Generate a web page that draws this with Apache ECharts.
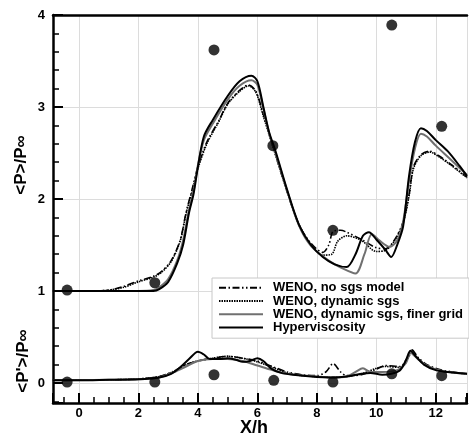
<!DOCTYPE html>
<html>
<head>
<meta charset="utf-8">
<script src="https://cdn.jsdelivr.net/npm/echarts@6/dist/echarts.min.js"></script>
<style>html,body{margin:0;padding:0;background:#fff}#c{width:469px;height:435px}</style>
</head>
<body>
<div id="c"></div>
<script>
// ---- data ----
const seriesNames = ['WENO, no sgs model', 'WENO, dynamic sgs', 'WENO, dynamic sgs, finer grid', 'Hyperviscosity'];
const xLabelName = 'X/h';
const yNameMean = '<P>/P\u221E';
const yNameFluct = "<P'>/P\u221E";

const expMean = [[-0.4,1.01],[2.55,1.09],[4.54,3.62],[6.52,2.58],[8.54,1.66],[10.52,3.89],[12.2,2.79]];
const expFluct = [[-0.4,0.01],[2.55,0.01],[4.54,0.09],[6.55,0.03],[8.54,0.01],[10.52,0.1],[12.2,0.08]];

const noSgsMean = [[-0.88,1.0],[0.5,1.0],[1.0,1.01],[1.5,1.05],[2.0,1.11],[2.5,1.16],[2.8,1.22],[3.1,1.33],[3.4,1.55],[3.6,1.85],[3.8,2.1],[4.0,2.35],[4.3,2.62],[4.7,2.85],[5.0,3.04],[5.4,3.18],[5.7,3.24],[5.95,3.17],[6.2,2.92],[6.5,2.6],[7.0,2.08],[7.4,1.72],[7.8,1.52],[8.2,1.42],[8.4,1.5],[8.55,1.65],[8.8,1.66],[9.0,1.64],[9.5,1.56],[10.0,1.47],[10.3,1.46],[10.6,1.55],[10.9,1.75],[11.1,2.05],[11.25,2.35],[11.5,2.48],[11.8,2.52],[12.1,2.47],[12.5,2.38],[13.05,2.24]];
const dynMean = [[-0.88,1.0],[0.5,1.0],[1.0,1.01],[1.5,1.04],[2.0,1.1],[2.5,1.15],[2.8,1.21],[3.1,1.32],[3.4,1.54],[3.6,1.84],[3.8,2.08],[4.0,2.33],[4.3,2.6],[4.7,2.84],[5.0,3.03],[5.4,3.17],[5.7,3.23],[5.95,3.16],[6.2,2.9],[6.5,2.59],[7.0,2.08],[7.4,1.72],[7.8,1.5],[8.2,1.39],[8.5,1.4],[8.7,1.54],[9.0,1.6],[9.5,1.55],[10.0,1.43],[10.3,1.44],[10.6,1.54],[10.9,1.74],[11.1,2.03],[11.25,2.33],[11.5,2.47],[11.8,2.51],[12.1,2.46],[12.5,2.37],[13.05,2.23]];
const fineMean = [[-0.88,1.0],[1.0,1.0],[2.0,1.0],[2.5,1.01],[2.7,1.04],[3.0,1.13],[3.3,1.33],[3.5,1.55],[3.7,1.88],[3.85,2.08],[4.0,2.37],[4.2,2.64],[4.5,2.82],[5.0,3.08],[5.4,3.23],[5.8,3.29],[6.0,3.24],[6.2,2.98],[6.4,2.71],[6.6,2.51],[7.0,2.09],[7.4,1.71],[7.8,1.49],[8.4,1.33],[8.9,1.24],[9.3,1.19],[9.6,1.4],[9.85,1.62],[10.1,1.55],[10.45,1.48],[10.7,1.55],[10.9,1.75],[11.1,2.2],[11.3,2.55],[11.5,2.71],[11.7,2.68],[12.0,2.58],[12.5,2.43],[13.05,2.26]];
const hyperMean = [[-0.88,1.0],[1.0,1.0],[2.0,1.0],[2.5,1.0],[2.7,1.02],[3.0,1.1],[3.3,1.3],[3.5,1.5],[3.7,1.85],[3.85,2.05],[4.0,2.35],[4.2,2.68],[4.5,2.86],[5.0,3.12],[5.4,3.28],[5.8,3.34],[6.0,3.28],[6.2,3.0],[6.4,2.72],[6.6,2.53],[7.0,2.1],[7.4,1.72],[7.8,1.5],[8.2,1.37],[8.6,1.29],[9.0,1.26],[9.3,1.4],[9.55,1.6],[9.75,1.64],[10.0,1.56],[10.3,1.45],[10.5,1.37],[10.7,1.5],[10.9,1.7],[11.1,2.25],[11.3,2.62],[11.5,2.77],[11.7,2.74],[12.0,2.64],[12.4,2.52],[12.8,2.36],[13.05,2.25]];

const noSgsFluct = [[-0.88,0.03],[1.0,0.035],[2.0,0.045],[2.7,0.07],[3.2,0.13],[3.6,0.2],[4.0,0.24],[4.5,0.27],[5.0,0.29],[5.5,0.27],[6.0,0.24],[6.5,0.18],[7.0,0.12],[7.5,0.09],[8.0,0.08],[8.3,0.12],[8.55,0.21],[8.8,0.12],[9.0,0.08],[9.5,0.09],[10.0,0.15],[10.3,0.19],[10.8,0.18],[11.0,0.25],[11.2,0.36],[11.4,0.28],[11.7,0.2],[12.2,0.14],[13.05,0.1]];
const dynFluct = [[-0.88,0.03],[1.0,0.035],[2.0,0.045],[2.7,0.07],[3.2,0.13],[3.6,0.2],[4.0,0.24],[4.5,0.27],[5.0,0.29],[5.5,0.27],[6.0,0.23],[6.5,0.17],[7.0,0.11],[7.5,0.08],[8.0,0.07],[8.5,0.06],[9.0,0.07],[9.5,0.1],[10.0,0.16],[10.3,0.18],[10.8,0.17],[11.0,0.23],[11.2,0.33],[11.4,0.27],[11.7,0.19],[12.2,0.13],[13.05,0.1]];
const fineFluct = [[-0.88,0.03],[2.0,0.04],[2.7,0.06],[3.2,0.12],[3.6,0.18],[4.0,0.24],[4.5,0.26],[5.0,0.26],[5.5,0.24],[6.0,0.19],[6.5,0.14],[7.0,0.1],[8.0,0.07],[8.5,0.06],[9.0,0.07],[9.3,0.12],[9.55,0.16],[9.8,0.12],[10.2,0.12],[10.7,0.14],[11.0,0.22],[11.15,0.33],[11.4,0.26],[11.7,0.19],[12.2,0.13],[13.05,0.1]];
const hyperFluct = [[-0.88,0.03],[0,0.03],[1,0.035],[2,0.04],[2.7,0.06],[3.1,0.1],[3.4,0.17],[3.7,0.26],[4.0,0.34],[4.2,0.31],[4.4,0.26],[4.7,0.26],[5.0,0.27],[5.3,0.25],[5.5,0.23],[5.75,0.24],[6.0,0.27],[6.2,0.24],[6.45,0.16],[6.8,0.11],[7.2,0.09],[8.0,0.065],[8.5,0.06],[9.0,0.07],[9.5,0.1],[9.8,0.11],[10.2,0.09],[10.5,0.1],[10.8,0.14],[11.0,0.25],[11.15,0.35],[11.3,0.3],[11.6,0.2],[12.0,0.14],[12.4,0.12],[13.05,0.1]];

const xMin = -0.875, xMax = 13.05, yMin = -0.217, yMax = 4;

// ---- chart ----
const FONT = '"Liberation Sans", Arial, Helvetica, sans-serif';
const chart = echarts.init(document.getElementById('c'), null, {renderer: 'canvas'});

const styles = [
  {color: '#000', width: 1.6, type: [7, 2.5, 1.5, 2.5, 7, 2.5, 1.5, 2.5, 1.5, 2.5]},
  {color: '#000', width: 1.6, type: [1.5, 1]},
  {color: '#707070', width: 2, type: 'solid'},
  {color: '#000', width: 2, type: 'solid'}
];
const meanData = [noSgsMean, dynMean, fineMean, hyperMean];
const fluctData = [noSgsFluct, dynFluct, fineFluct, hyperFluct];

const series = [];
for (let i = 0; i < 4; i++) {
  [meanData[i], fluctData[i]].forEach(d => {
    series.push({
      name: seriesNames[i], type: 'line', data: d, showSymbol: false, symbol: 'none', symbolSize: 0,
      smooth: 0.3, lineStyle: styles[i], itemStyle: {color: styles[i].color},
      xAxisIndex: 0, yAxisIndex: 0, animation: false, silent: true, z: 3
    });
  });
}
[expMean, expFluct].forEach(d => {
  series.push({type: 'scatter', data: d, symbol: 'circle', symbolSize: 11,
    itemStyle: {color: '#000'}, animation: false, silent: true, z: 4});
});

const axisLine = {show: true, onZero: false, lineStyle: {color: '#000', width: 2.5}};
const tickLabel = {color: '#000', fontFamily: FONT, fontWeight: 'bold', fontSize: 13};

chart.setOption({
  animation: false,
  backgroundColor: '#fff',
  grid: {left: 53, top: 15, right: 2, bottom: 32, containLabel: false},
  xAxis: [{
    type: 'value', min: xMin, max: xMax, splitNumber: 7,
    axisLine: axisLine,
    axisTick: {show: true, inside: true, length: 10, lineStyle: {color: '#000', width: 2}},
    minorTick: {show: true, splitNumber: 4, length: 6, lineStyle: {color: '#000', width: 1.5}},
    axisLabel: Object.assign({margin: 4, showMinLabel: false, showMaxLabel: false}, tickLabel),
    splitLine: {show: true, lineStyle: {color: '#dcdcdc', width: 1}},
    minorSplitLine: {show: false}
  }, {
    type: 'value', position: 'top', min: xMin, max: xMax,
    axisLine: axisLine, axisTick: {show: false}, axisLabel: {show: false}, splitLine: {show: false}
  }],
  yAxis: [{
    type: 'value', min: yMin, max: yMax, splitNumber: 5,
    axisLine: axisLine,
    axisTick: {show: true, inside: true, length: 10, lineStyle: {color: '#000', width: 2}},
    minorTick: {show: true, splitNumber: 5, length: 6, lineStyle: {color: '#000', width: 1.5}},
    axisLabel: Object.assign({margin: 8, showMinLabel: false}, tickLabel),
    splitLine: {show: true, lineStyle: {color: '#dcdcdc', width: 1}}
  }],
  legend: {
    data: seriesNames,
    orient: 'vertical', left: 212, top: 278, width: 254,
    padding: [3, 6, 4, 6], itemGap: 0, itemWidth: 44, itemHeight: 10,
    backgroundColor: '#fff', borderColor: '#c8c8c8', borderWidth: 1,
    selectedMode: false,
    itemStyle: {opacity: 0, borderWidth: 0},
    textStyle: {color: '#000', fontFamily: FONT, fontWeight: 'bold', fontSize: 13, lineHeight: 13.3, padding: [0, 0, 0, 5]}
  },
  graphic: [
    {type: 'text', left: 240, top: 419, style: {text: xLabelName, font: 'bold 18px ' + FONT, fill: '#000'}},
    {type: 'text', x: 21, y: 165, rotation: Math.PI / 2,
      style: {text: yNameMean, font: 'bold 17px ' + FONT, fill: '#000', align: 'center', verticalAlign: 'middle'}},
    {type: 'text', x: 23, y: 361, rotation: Math.PI / 2,
      style: {text: yNameFluct, font: 'bold 17px ' + FONT, fill: '#000', align: 'center', verticalAlign: 'middle'}}
  ],
  series: series
});
</script>
</body>
</html>
